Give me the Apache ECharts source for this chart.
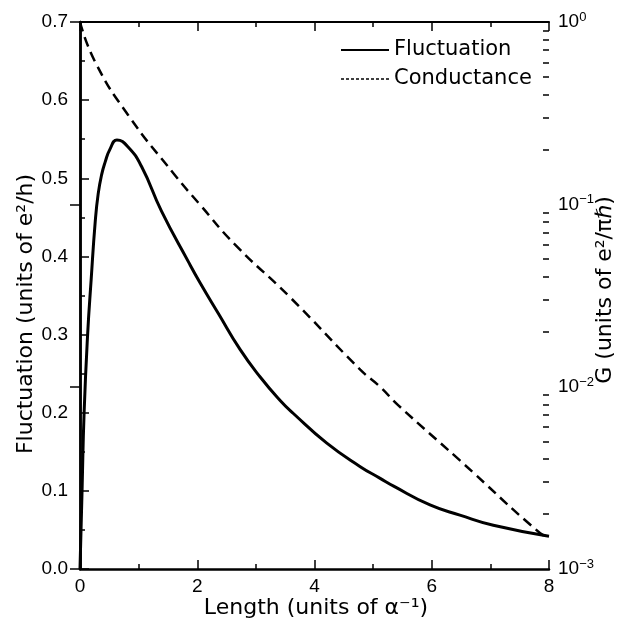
<!DOCTYPE html>
<html>
<head>
<meta charset="utf-8">
<script src="https://cdn.jsdelivr.net/npm/echarts@6/dist/echarts.min.js"></script>
<style>
html,body{margin:0;padding:0;background:#fff;}
#chart{width:622px;height:626px;}
</style>
</head>
<body>
<div id="chart"></div>
<script>
// Fluctuation curve (left axis, units of e^2/h)
const fluctLength = [0, 0.035, 0.07, 0.13, 0.19, 0.26, 0.31, 0.37, 0.43, 0.51, 0.63, 0.82, 1.05, 1.39, 1.85, 2.05, 2.36, 2.73, 3.07, 3.41, 3.64, 4.21, 4.78, 5.12, 5.35, 5.97, 6.48, 7.05, 8.0];
const fluctValue  = [0, 0.10, 0.20, 0.30, 0.37, 0.445, 0.480, 0.505, 0.521, 0.537, 0.549, 0.540, 0.515, 0.458, 0.393, 0.366, 0.327, 0.281, 0.246, 0.216, 0.199, 0.161, 0.131, 0.116, 0.106, 0.082, 0.069, 0.056, 0.042];
// Conductance curve (right log axis, units of e^2/(pi hbar))
const condLength = [0, 0.256, 0.82, 1.62, 2.05, 2.645, 3.58, 4.78, 5.12, 5.43, 6.48, 7.85, 8.0];
const condValue  = [1, 0.606, 0.309, 0.1445, 0.0993, 0.0601, 0.031, 0.0124, 0.00997, 0.0079, 0.00394, 0.00157, 0.0015];
// Axis settings
const xTicks = [0, 2, 4, 6, 8];
const leftTicks = [0.0, 0.1, 0.2, 0.3, 0.4, 0.5, 0.6, 0.7];
const rightDecades = [-3, -2, -1, 0];
const seriesNames = ['Fluctuation', 'Conductance'];

const minorLogTicks = [];
for (let d = -3; d < 0; d++) { for (let k = 2; k <= 9; k++) minorLogTicks.push(Math.log10(k) + d); }

const tickFont = 'Liberation Sans, Arial, sans-serif';
const titleFont = 'DejaVu Sans, sans-serif';

const chart = echarts.init(document.getElementById('chart'), null, {renderer: 'canvas'});
const option = {
  backgroundColor: '#fff',
  animation: false,
  grid: {left: 80, right: 73, top: 22, bottom: 57, containLabel: false},
  legend: {
    orient: 'vertical', left: 340, top: 38, itemWidth: 48, itemHeight: 14, itemGap: 5, padding: 0,
    textStyle: {fontFamily: titleFont, fontSize: 21, color: '#000', lineHeight: 24},
    data: [
      {name: seriesNames[0], itemStyle: {opacity: 0}, lineStyle: {type: 'solid', width: 2, color: '#000'}},
      {name: seriesNames[1], itemStyle: {opacity: 0}, lineStyle: {type: [3, 2], width: 1.5, color: '#000'}}
    ]
  },
  xAxis: [
    {type: 'value', min: xTicks[0], max: xTicks[xTicks.length - 1], interval: 2, position: 'bottom',
     axisLine: {show: true, lineStyle: {color: '#000', width: 2.5}},
     axisTick: {show: true, inside: true, length: 9, lineStyle: {color: '#000', width: 1.5}},
     minorTick: {show: true, splitNumber: 2, length: 5, lineStyle: {color: '#000', width: 1.5}},
     splitLine: {show: false},
     axisLabel: {show: true, margin: 8, fontFamily: tickFont, fontSize: 19, color: '#000', showMinLabel: true, showMaxLabel: true}},
    {type: 'value', min: xTicks[0], max: xTicks[xTicks.length - 1], interval: 2, position: 'top',
     axisLine: {show: true, lineStyle: {color: '#000', width: 2}},
     axisTick: {show: true, inside: true, length: 9, lineStyle: {color: '#000', width: 1.5}},
     minorTick: {show: true, splitNumber: 2, length: 5, lineStyle: {color: '#000', width: 1.5}},
     splitLine: {show: false}, axisLabel: {show: false}}
  ],
  yAxis: [
    {type: 'value', min: leftTicks[0], max: leftTicks[leftTicks.length - 1], interval: 0.1, position: 'left',
     axisLine: {show: true, lineStyle: {color: '#000', width: 2.5}},
     axisTick: {show: true, inside: true, length: 9, lineStyle: {color: '#000', width: 1.5}},
     minorTick: {show: true, splitNumber: 2, length: 5, lineStyle: {color: '#000', width: 1.5}},
     splitLine: {show: false},
     axisLabel: {show: true, margin: 12, fontFamily: tickFont, fontSize: 19, color: '#000', showMinLabel: true, showMaxLabel: true,
                 formatter: v => v.toFixed(1)}},
    {type: 'log', logBase: 10, min: Math.pow(10, rightDecades[0]), max: Math.pow(10, rightDecades[rightDecades.length - 1]), position: 'right',
     axisLine: {show: true, lineStyle: {color: '#000', width: 2.5}},
     axisTick: {show: true, inside: true, length: 10, lineStyle: {color: '#000', width: 1.5}},
     minorTick: {show: false}, splitLine: {show: false},
     axisLabel: {show: true, margin: 9, showMinLabel: true, showMaxLabel: true,
       formatter: v => '{b|10}{s|' + (Math.round(Math.log10(v)) === 0 ? '0' : '\u2212' + Math.abs(Math.round(Math.log10(v)))) + '}',
       rich: {
         b: {fontFamily: tickFont, fontSize: 19, color: '#000', lineHeight: 22},
         s: {fontFamily: tickFont, fontSize: 13, color: '#000', verticalAlign: 'top', lineHeight: 14}
       }}},
    {type: 'value', min: rightDecades[0], max: rightDecades[rightDecades.length - 1], position: 'right',
     axisLine: {show: false}, splitLine: {show: false}, axisLabel: {show: false},
     axisTick: {show: true, inside: true, length: 6, customValues: minorLogTicks, lineStyle: {color: '#000', width: 1.5}}}
  ],
  graphic: [
    {type: 'text', x: 316, y: 608, style: {text: 'Length (units of \u03b1\u207b\u00b9)', font: '22px ' + titleFont, fill: '#000', align: 'center', verticalAlign: 'middle'}},
    {type: 'text', x: 26, y: 314, rotation: Math.PI / 2, style: {text: 'Fluctuation (units of e\u00b2/h)', font: '22px ' + titleFont, fill: '#000', align: 'center', verticalAlign: 'middle'}},
    {type: 'text', x: 605, y: 290, rotation: Math.PI / 2, style: {text: 'G (units of e\u00b2/\u03c0\u210f)', font: '22px ' + titleFont, fill: '#000', align: 'center', verticalAlign: 'middle'}}
  ],
  series: [
    {name: seriesNames[0], type: 'line', xAxisIndex: 0, yAxisIndex: 0, symbol: 'none', smooth: 0.5,
     lineStyle: {color: '#000', width: 3, type: 'solid'}, itemStyle: {color: '#000'},
     data: fluctLength.map((x, i) => [x, fluctValue[i]])},
    {name: seriesNames[1], type: 'line', xAxisIndex: 0, yAxisIndex: 1, symbol: 'none', smooth: 0.5,
     lineStyle: {color: '#000', width: 2.5, type: [10, 6]}, itemStyle: {color: '#000'},
     data: condLength.map((x, i) => [x, condValue[i]])}
  ]
};
chart.setOption(option);
</script>
</body>
</html>
